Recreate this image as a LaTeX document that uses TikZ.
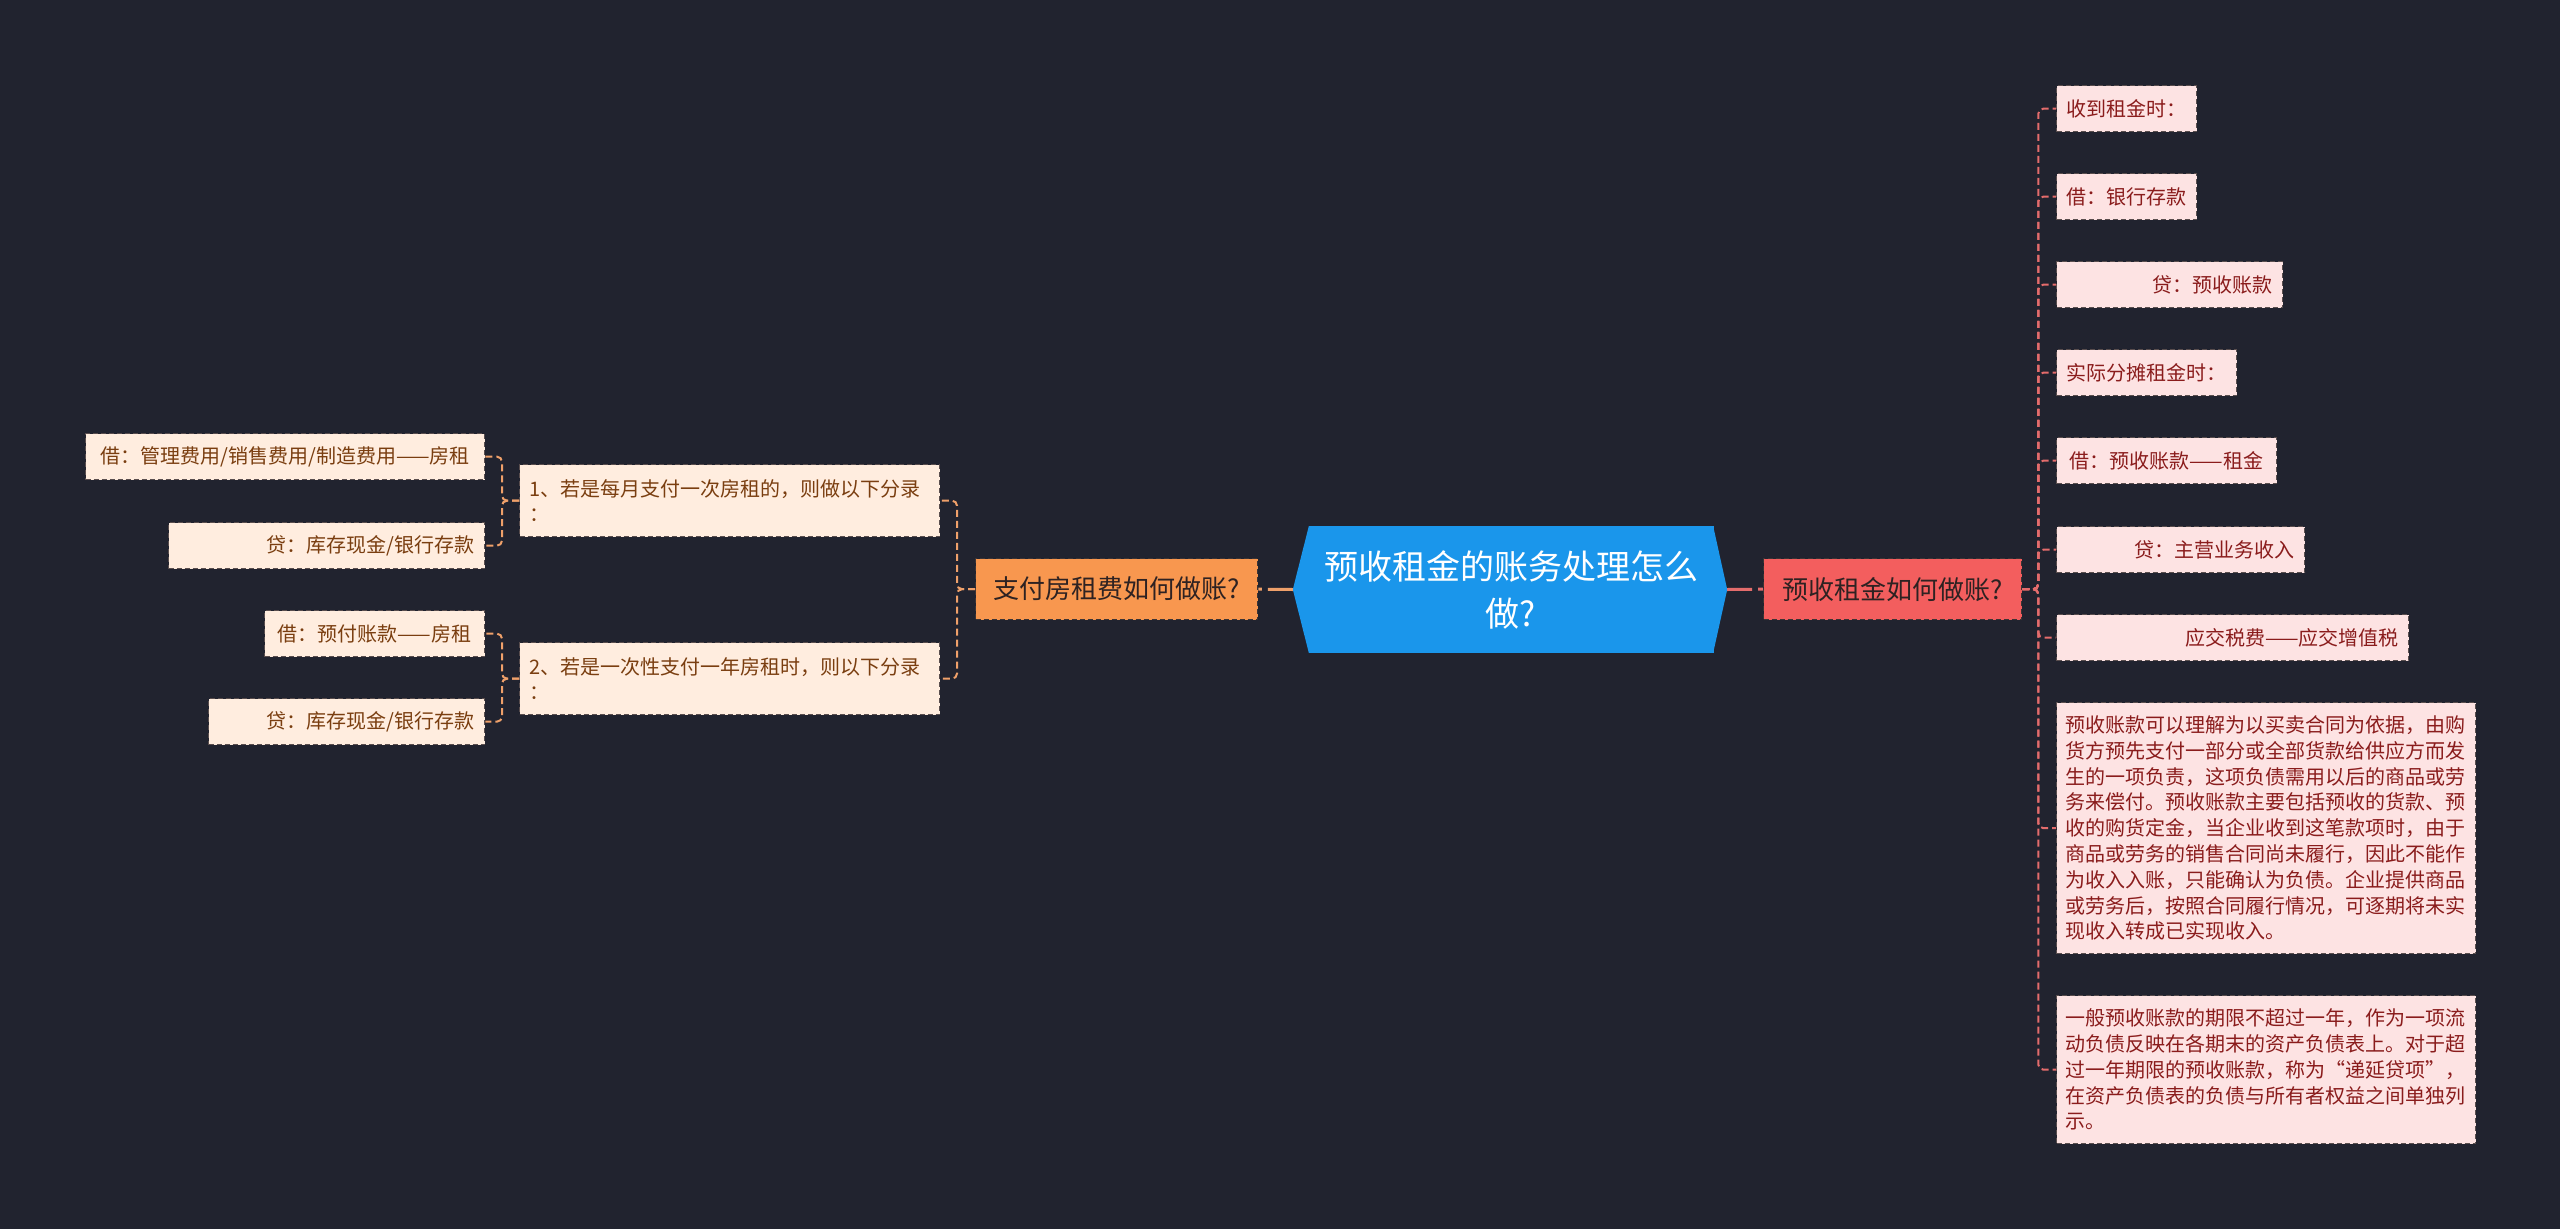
\documentclass[tikz,border=0pt]{standalone}
\usepackage{fontspec}
\setmainfont{Noto Sans CJK SC}
\usetikzlibrary{backgrounds}
\definecolor{bg}{HTML}{21232F}
\definecolor{cblue}{HTML}{1A96EB}
\definecolor{rbranch}{HTML}{F35E5E}
\definecolor{obranch}{HTML}{F8974F}
\definecolor{btext}{HTML}{2E2222}
\definecolor{bbd}{HTML}{3C3434}
\definecolor{rfill}{HTML}{FDE3E3}
\definecolor{rtext}{HTML}{8A1C1C}
\definecolor{lfill}{HTML}{FFEDDF}
\definecolor{ltext}{HTML}{7A3E10}
\definecolor{leafbd}{HTML}{5A4E4E}
\definecolor{rline}{HTML}{E46C6C}
\definecolor{lline}{HTML}{EFA06A}
\newcommand{\leaffont}{\fontsize{20pt}{25.8pt}\selectfont}
\newcommand{\branchfont}{\fontsize{26pt}{31pt}\selectfont}
\newcommand{\centerfont}{\fontsize{34pt}{47pt}\selectfont}
\tikzset{
  leafbox/.style={draw=leafbd, dash pattern=on 5pt off 3pt, line width=1.3pt,
    font=\leaffont, inner xsep=10pt, inner ysep=0pt, anchor=north west, minimum height=46pt},
  rleaf/.style={leafbox, fill=rfill, text=rtext},
  lleaf/.style={leafbox, fill=lfill, text=ltext},
  bnode/.style={draw=bbd, dash pattern=on 5pt off 3pt, line width=1.3pt,
    font=\branchfont, text=btext, inner sep=0pt, anchor=north west, minimum height=61pt},
  cnode/.style={fill=cblue, text=white, font=\centerfont, align=center, inner sep=0pt,
    minimum width=405pt, minimum height=127pt},
  rconn/.style={draw=rline, line width=2pt, dash pattern=on 7pt off 4pt, rounded corners=5pt},
  lconn/.style={draw=lline, line width=2pt, dash pattern=on 7pt off 4pt, rounded corners=5pt},
  rmain/.style={draw=rline, line width=3pt, dash pattern=on 25pt off 6pt},
  lmain/.style={draw=lline, line width=3pt, dash pattern=on 25pt off 6pt},
}
\begin{document}
\begin{tikzpicture}[x=1pt,y=-1pt]
\useasboundingbox (0,0) rectangle (2560,1229);
\fill[bg] (0,0) rectangle (2560,1229);

% center
\node[cnode] (C) at (1511,589.5) {预收租金的账务处理怎么\\做?};
\fill[cblue] ([xshift=0.6pt]C.north west) -- ([xshift=-15.5pt]C.west) -- ([xshift=0.6pt]C.south west) -- cycle;
\fill[cblue] ([xshift=-0.6pt]C.north east) -- ([xshift=13.5pt]C.east) -- ([xshift=-0.6pt]C.south east) -- cycle;
\coordinate (Cl) at ([xshift=-15.5pt]C.west);
\coordinate (Cr) at ([xshift=13.5pt]C.east);

% branches
\node[bnode, fill=obranch, minimum width=282pt] (OB) at (975,558) {支付房租费如何做账?};
\node[bnode, fill=rbranch, minimum width=258pt] (RB) at (1763,558) {预收租金如何做账?};
\draw[lmain] (Cl) -- (OB.east);
\draw[rmain] (Cr) -- (RB.west);

% right leaves
\node[rleaf, minimum width=140pt] (R1) at (2056,85) {收到租金时：};
\node[rleaf, minimum width=140pt] (R2) at (2056,173) {借：银行存款};
\node[rleaf, text width=206pt, align=right] (R3) at (2056,261) {贷：预收账款};
\node[rleaf, minimum width=180pt] (R4) at (2056,349) {实际分摊租金时：};
\node[rleaf, minimum width=220pt] (R5) at (2056,437) {借：预收账款——租金};
\node[rleaf, text width=228pt, align=right] (R6) at (2056,526) {贷：主营业务收入};
\node[rleaf, text width=332pt, align=right] (R7) at (2056,614) {应交税费——应交增值税};
\node[rleaf, text width=402pt, inner xsep=8.5pt, align=left, minimum height=251pt] (R8) at (2056,702) {预收账款可以理解为以买卖合同为依据，由购\\货方预先支付一部分或全部货款给供应方而发\\生的一项负责，这项负债需用以后的商品或劳\\务来偿付。预收账款主要包括预收的货款、预\\收的购货定金，当企业收到这笔款项时，由于\\商品或劳务的销售合同尚未履行，因此不能作\\为收入入账，只能确认为负债。企业提供商品\\或劳务后，按照合同履行情况，可逐期将未实\\现收入转成已实现收入。};
\node[rleaf, text width=402pt, inner xsep=8.5pt, align=left, minimum height=148pt] (R9) at (2056,995) {一般预收账款的期限不超过一年，作为一项流\\动负债反映在各期末的资产负债表上。对于超\\过一年期限的预收账款，称为“递延贷项”，\\在资产负债表的负债与所有者权益之间单独列\\示。};
\foreach \n in {R1,R2,R3,R4,R5,R6,R7,R8,R9}
  \draw[rconn] (RB.east) -- ++(16,0) |- (\n.west);

% left middle
\node[lleaf, text width=400pt, align=left, minimum height=72pt] (M1) at (519,464) {1、若是每月支付一次房租的，则做以下分录\\：};
\node[lleaf, text width=400pt, align=left, minimum height=72pt] (M2) at (519,642) {2、若是一次性支付一年房租时，则以下分录\\：};
\draw[lconn] (OB.west) -- ++(-18,0) |- (M1.east);
\draw[lconn] (OB.west) -- ++(-18,0) |- (M2.east);

% left leaves
\node[lleaf, minimum width=399pt] (L1) at (85,433) {借：管理费用/销售费用/制造费用——房租};
\node[lleaf, text width=296pt, align=right] (L2) at (168,522) {贷：库存现金/银行存款};
\node[lleaf, minimum width=220pt] (L3) at (264,610) {借：预付账款——房租};
\node[lleaf, text width=256pt, align=right] (L4) at (208,698) {贷：库存现金/银行存款};
\draw[lconn] (M1.west) -- ++(-17,0) |- (L1.east);
\draw[lconn] (M1.west) -- ++(-17,0) |- (L2.east);
\draw[lconn] (M2.west) -- ++(-17,0) |- (L3.east);
\draw[lconn] (M2.west) -- ++(-17,0) |- (L4.east);
\end{tikzpicture}
\end{document}
